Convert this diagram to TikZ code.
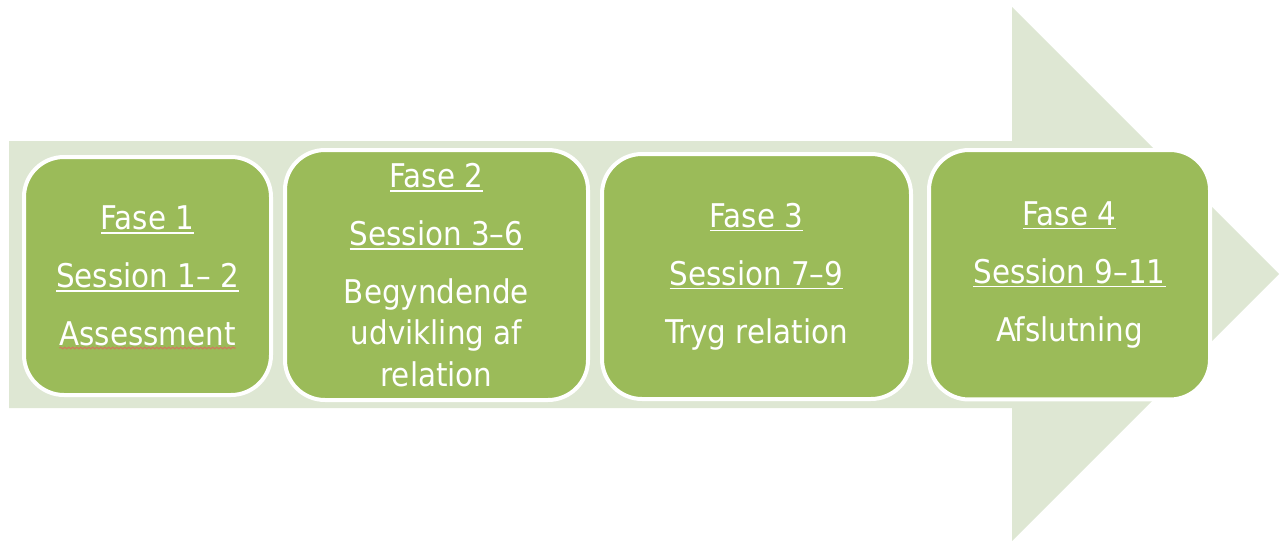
\documentclass[tikz,border=0pt]{standalone}
\usepackage{fontspec}
\setmainfont{DejaVu Sans Condensed}
\usepackage{xcolor}
\usetikzlibrary{calc,decorations.pathmorphing}
\definecolor{arrowfill}{RGB}{222,231,211}
\definecolor{phasefill}{RGB}{155,187,89}
\definecolor{spellred}{RGB}{210,120,95}
\newcommand{\phaseul}[1]{\setbox0\hbox{#1}\rlap{\rule[-3pt]{\wd0}{1.1pt}}\box0}

\begin{document}
\begin{tikzpicture}[x=0.75pt,y=-0.75pt,
	phase/.style={draw=white,line width=3pt,fill=phasefill,rounded corners=30pt,
		inner sep=0pt,text=white,align=center,font=\fontsize{24.5}{31}\selectfont},
	spell/.style={spellred,line width=0.8pt,decorate,
		decoration={snake,amplitude=0.6pt,segment length=3pt}}]
				\useasboundingbox (0,0) rectangle (1282,540);
				
				% big arrow behind
				\fill[arrowfill] (9,141) -- (1012,141) -- (1012,7) -- (1279,274)
					-- (1012,541) -- (1012,408) -- (9,408) -- cycle;
				
				% phases
				\node[phase,minimum width=185.25pt,minimum height=178.5pt] (b1) at (147.5,276)
					{\phaseul{Fase 1}\\[12.5pt]\phaseul{Session 1– 2}\\[12.5pt]Assessment};
				\node[phase,minimum width=227.25pt,minimum height=187.5pt] (b2) at (436.5,275)
					{\phaseul{Fase 2}\\[12.5pt]\phaseul{Session 3–6}\\[12.5pt]Begyndende\\udvikling af\\relation};
				\node[phase,minimum width=231.75pt,minimum height=183.75pt] (b3) at (756.5,276.5)
					{\phaseul{Fase 3}\\[12.5pt]\phaseul{Session 7–9}\\[12.5pt]Tryg relation};
				\node[phase,minimum width=210.75pt,minimum height=187.1pt] (b4) at (1069.5,274.75)
					{\phaseul{Fase 4}\\[12.5pt]\phaseul{Session 9–11}\\[12.5pt]Afslutning};
				
				% spelling mark under Assessment
				\coordinate (sp) at ($(b1.center)+(-88,72)$);
				\draw[spell] (sp) -- ++(176,0);
			\end{tikzpicture}
\end{document}
